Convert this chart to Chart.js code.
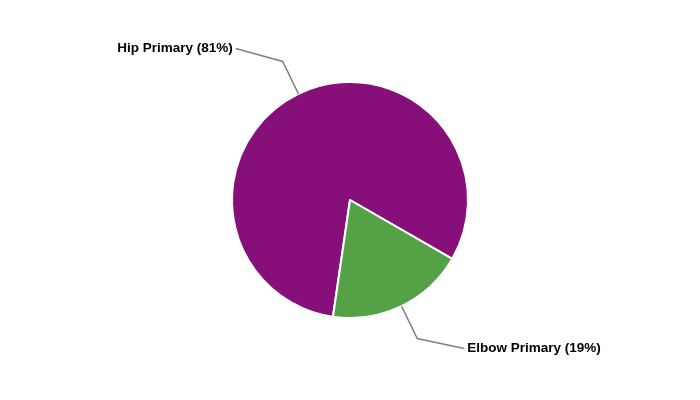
<!DOCTYPE html>
<html>
<head>
<meta charset="utf-8">
<script src="https://cdn.jsdelivr.net/npm/chart.js@4"></script>
<style>
  html, body { margin: 0; padding: 0; background: #fff; }
  #wrap { width: 700px; height: 400px; position: relative; }
</style>
</head>
<body>
<div id="wrap"><canvas id="pieChart"></canvas></div>
<script>
// Chart data
const categories = ['Hip Primary', 'Elbow Primary'];
const shares = [81, 19];
const sliceColors = ['#860F7A', '#55A246'];

// Outside labels with bent leader lines
const leaderLabels = {
  id: 'leaderLabels',
  afterDatasetsDraw(chart) {
    const ctx = chart.ctx;
    const arcs = chart.getDatasetMeta(0).data;
    ctx.save();
    ctx.font = 'bold 13.5px "Liberation Sans", Arial, sans-serif';
    ctx.textBaseline = 'middle';
    arcs.forEach((arc, i) => {
      const mid = (arc.startAngle + arc.endAngle) / 2;
      const r = arc.outerRadius;
      const cos = Math.cos(mid), sin = Math.sin(mid);
      const x0 = arc.x + cos * r, y0 = arc.y + sin * r;
      const x1 = arc.x + cos * (r + 36), y1 = arc.y + sin * (r + 36);
      const right = cos >= 0;
      const x2 = x1 + (right ? 47 : -47);
      const y2 = y1 + (sin >= 0 ? 10 : -13);
      ctx.strokeStyle = '#808080';
      ctx.lineWidth = 1.5;
      ctx.beginPath();
      ctx.moveTo(x0, y0);
      ctx.lineTo(x1, y1);
      ctx.lineTo(x2, y2);
      ctx.stroke();
      ctx.fillStyle = '#000';
      ctx.textAlign = right ? 'left' : 'right';
      ctx.fillText(`${categories[i]} (${shares[i]}%)`, x2 + (right ? 3 : -3), y2);
    });
    ctx.restore();
  }
};

new Chart(document.getElementById('pieChart').getContext('2d'), {
  type: 'pie',
  data: {
    labels: categories,
    datasets: [{
      data: shares,
      backgroundColor: sliceColors,
      borderColor: '#fff',
      borderWidth: 2,
    }],
  },
  options: {
    responsive: true,
    maintainAspectRatio: false,
    animation: false,
    rotation: 188.3,
    layout: { padding: { top: 81, bottom: 81, left: 0, right: 0 } },
    plugins: {
      legend: { display: false },
      tooltip: { enabled: false },
    },
  },
  plugins: [leaderLabels],
});
</script>
</body>
</html>
